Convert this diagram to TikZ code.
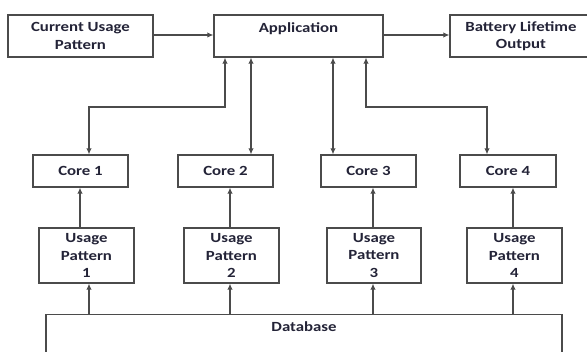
\documentclass[tikz,border=0pt]{standalone}
\usepackage{fontspec}
\setmainfont{Carlito}[FakeStretch=1.2]
\usetikzlibrary{arrows.meta}
\definecolor{linec}{RGB}{75,75,75}
\definecolor{textc}{RGB}{35,35,55}
\begin{document}
\begin{tikzpicture}[x=1pt,y=-1pt,
  box/.style={draw=linec, line width=1.3pt, rectangle, inner sep=0pt, align=center,
    font=\fontsize{14}{17.5}\selectfont\bfseries, text=textc},
  conn/.style={draw=linec, line width=1.3pt, -{Latex[length=6pt,width=5.5pt]}},
  biconn/.style={draw=linec, line width=1.3pt, {Latex[length=6pt,width=5.5pt]}-{Latex[length=6pt,width=5.5pt]}}]
\useasboundingbox (0,0) rectangle (587,352);
\clip (0,0) rectangle (587,352);
% top row
\node[box, minimum width=145pt, minimum height=42pt] (cup) at (80.5,36) {Current Usage\\Pattern};
\node[box, minimum width=169pt, minimum height=42pt] (app) at (298.5,36) {Application\\~};
\node[box, minimum width=142pt, minimum height=42pt] (bat) at (521,36) {Battery Lifetime\\Output};
% cores
\node[box, minimum width=95pt, minimum height=32pt] (c1) at (80.5,171) {Core 1};
\node[box, minimum width=95pt, minimum height=32pt] (c2) at (225.5,171) {Core 2};
\node[box, minimum width=95pt, minimum height=32pt] (c3) at (368.5,171) {Core 3};
\node[box, minimum width=96pt, minimum height=32pt] (c4) at (508,171) {Core 4};
% usage patterns
\node[box, minimum width=95pt, minimum height=55pt] (u1) at (86.5,255.5) {Usage\\Pattern\\1};
\node[box, minimum width=95pt, minimum height=55pt] (u2) at (231.5,255.5) {Usage\\Pattern\\2};
\node[box, minimum width=94pt, minimum height=55pt] (u3) at (374,255.5) {Usage\\Pattern\\3};
\node[box, minimum width=95pt, minimum height=55pt] (u4) at (514.5,255.5) {Usage\\Pattern\\4};
% database
\node[box, minimum width=516pt, minimum height=60pt, anchor=north] (db) at (304,314) {};
\node[font=\fontsize{14}{17.5}\selectfont\bfseries, text=textc, inner sep=0pt] (dbt) at (304,327) {Database};
% top row connectors
\draw[conn] (cup.east |- 0,35) -- (app.west |- 0,35);
\draw[conn] (app.east |- 0,35) -- (bat.west |- 0,35);
% application <-> cores
\draw[biconn] (225,0 |- app.south) -- (225,107) -- (89,107) -- (89,0 |- c1.north);
\draw[biconn] (251,0 |- app.south) -- (251,0 |- c2.north);
\draw[biconn] (333,0 |- app.south) -- (333,0 |- c3.north);
\draw[biconn] (366,0 |- app.south) -- (366,107) -- (487,107) -- (487,0 |- c4.north);
% usage -> cores
\draw[conn] (80,0 |- u1.north) -- (80,0 |- c1.south);
\draw[conn] (230,0 |- u2.north) -- (230,0 |- c2.south);
\draw[conn] (373,0 |- u3.north) -- (373,0 |- c3.south);
\draw[conn] (513,0 |- u4.north) -- (513,0 |- c4.south);
% database -> usage
\draw[conn] (89,0 |- db.north) -- (89,0 |- u1.south);
\draw[conn] (230,0 |- db.north) -- (230,0 |- u2.south);
\draw[conn] (373,0 |- db.north) -- (373,0 |- u3.south);
\draw[conn] (513,0 |- db.north) -- (513,0 |- u4.south);
\end{tikzpicture}
\end{document}
